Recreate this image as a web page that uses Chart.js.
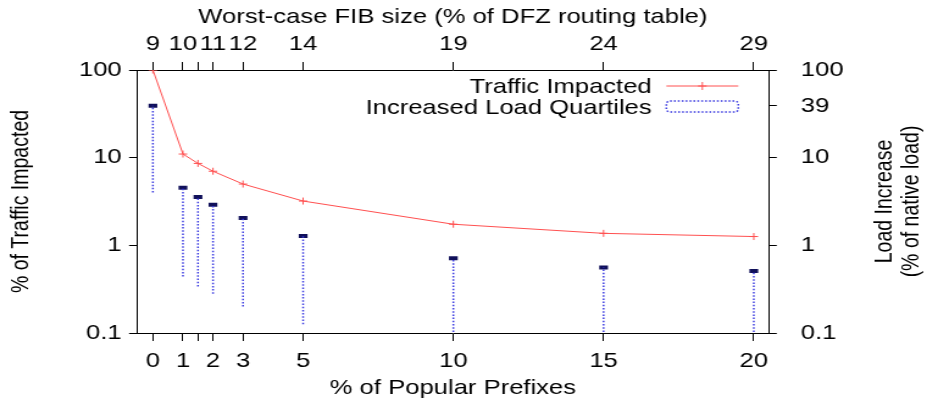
<!DOCTYPE html>
<html>
<head>
<meta charset="utf-8">
<script src="https://cdn.jsdelivr.net/npm/chart.js@4.4.0/dist/chart.umd.min.js"></script>
<style>
  html, body { margin: 0; padding: 0; background: #fff; }
  #wrap { width: 927px; height: 402px; }
  /* the original figure is stretched sideways, so the canvas is too */
  #chartFib { width: 927px; height: 402px; display: block; }
</style>
</head>
<body>
<div id="wrap"><canvas id="chartFib" width="760" height="402" style="width:927px;height:402px"></canvas></div>
<script>
// % of popular prefixes (x) and the two series
const prefixes = [0, 1, 1.5, 2, 3, 5, 10, 15, 20];
const trafficImpacted = [100, 11.0, 8.6, 7.0, 5.0, 3.2, 1.74, 1.37, 1.26];
const loadLow = [4.0, 0.44, 0.34, 0.28, 0.2, 0.126, 0.08, 0.08, 0.08];
const loadHigh = [39, 4.55, 3.55, 2.9, 2.05, 1.28, 0.71, 0.56, 0.51];

const bottomTicks = [0, 1, 1.5, 2, 3, 5, 10, 15, 20];
const bottomLabels = ['0', '1', '', '2', '3', '5', '10', '15', '20'];
const topLabels = ['9', '10', '', '11', '12', '14', '19', '24', '29'];
const leftTicks = [0.1, 1, 10, 100];
const rightTicks = [0.1, 1, 10, 39, 100];

const fam = 'Liberation Sans';
const tickFont = { family: fam, size: 21 };
const xGrid = { drawOnChartArea: false, tickLength: 8, color: '#000', lineWidth: 1 };
const yGrid = { drawOnChartArea: false, tickLength: 6.5, color: '#000', lineWidth: 1 };
const borderOpts = { color: '#000', width: 1 };

// dotted quartile bars, one segment per x, broken by nulls
const quartileData = [];
prefixes.forEach(function (x, i) {
    quartileData.push({ x: x, y: loadLow[i] });
    quartileData.push({ x: x, y: loadHigh[i] });
    quartileData.push({ x: x, y: null });
});

const extraText = {
    id: 'extraText',
    afterDatasetsDraw(chart) {
        const ctx = chart.ctx;
        const a = chart.chartArea;
        ctx.save();
        // legend, inside the top right corner
        const tx = a.right - 96, sx = a.right - 84, ex = a.right - 25;
        ctx.font = '21px "' + fam + '"';
        ctx.fillStyle = '#000';
        ctx.textAlign = 'right';
        ctx.textBaseline = 'middle';
        ctx.fillText('Traffic Impacted', tx, a.top + 17.5);
        ctx.fillText('Increased Load Quartiles', tx, a.top + 38);
        ctx.strokeStyle = '#ff5050';
        ctx.lineWidth = 1;
        ctx.beginPath();
        ctx.moveTo(sx, a.top + 16); ctx.lineTo(ex, a.top + 16);
        const mx = (sx + ex) / 2;
        ctx.moveTo(mx - 3.5, a.top + 16); ctx.lineTo(mx + 3.5, a.top + 16);
        ctx.moveTo(mx, a.top + 12); ctx.lineTo(mx, a.top + 20);
        ctx.stroke();
        ctx.strokeStyle = '#3a3ae0';
        ctx.lineWidth = 1.5;
        ctx.setLineDash([1.5, 1.7]);
        ctx.beginPath();
        ctx.roundRect(sx, a.top + 31, ex - sx, 11, 3);
        ctx.stroke();
        ctx.setLineDash([]);
        // right axis title, reading upwards
        ctx.font = '19.5px "' + fam + '"';
        ctx.textAlign = 'center';
        ctx.translate(736.5, (a.top + a.bottom) / 2);
        ctx.rotate(-Math.PI / 2);
        ctx.fillText('Load Increase', 0, -11);
        ctx.fillText('(% of native load)', 0, 11);
        ctx.restore();
    }
};

const ctx = document.getElementById('chartFib').getContext('2d');
const chart = new Chart(ctx, {
    data: {
        datasets: [{
            type: 'line',
            label: 'Increased Load Quartiles',
            data: quartileData,
            borderColor: '#3a3ae0',
            borderWidth: 1.5,
            borderDash: [1.5, 1.7],
            pointRadius: 0,
            spanGaps: false
        }, {
            type: 'scatter',
            label: 'caps',
            data: prefixes.map((x, i) => ({ x: x, y: loadHigh[i] })),
            pointStyle: 'line',
            pointRadius: 3.6,
            pointBorderWidth: 4,
            borderColor: '#10105a',
            backgroundColor: '#10105a'
        }, {
            type: 'line',
            label: 'Traffic Impacted',
            data: prefixes.map((x, i) => ({ x: x, y: trafficImpacted[i] })),
            borderColor: '#ff5050',
            backgroundColor: '#ff5050',
            borderWidth: 1,
            pointStyle: 'cross',
            pointRadius: 3.5,
            pointBorderWidth: 1,
            tension: 0
        }]
    },
    options: {
        responsive: false,
        animation: false,
        devicePixelRatio: 1,
        layout: { padding: 0 },
        plugins: { legend: { display: false }, tooltip: { enabled: false } },
        scales: {
            x: {
                type: 'linear', position: 'bottom', min: -0.53, max: 20.5,
                afterBuildTicks: s => { s.ticks = bottomTicks.map(v => ({ value: v })); },
                afterFit: s => { s.height = 69; },
                ticks: { font: tickFont, color: '#000', padding: 8, maxRotation: 0, autoSkip: false,
                    callback: v => bottomLabels[bottomTicks.indexOf(v)] },
                grid: xGrid, border: borderOpts,
                title: { display: true, text: '% of Popular Prefixes', color: '#000',
                    font: { family: fam, size: 21 }, padding: { top: 0, bottom: 1 } }
            },
            xTop: {
                type: 'linear', position: 'top', min: -0.53, max: 20.5,
                afterBuildTicks: s => { s.ticks = bottomTicks.map(v => ({ value: v })); },
                afterFit: s => { s.height = 70; },
                ticks: { font: tickFont, color: '#000', padding: 5, maxRotation: 0, autoSkip: false,
                    callback: v => topLabels[bottomTicks.indexOf(v)] },
                grid: xGrid, border: borderOpts,
                title: { display: true, text: 'Worst-case FIB size (% of DFZ routing table)', color: '#000',
                    font: { family: fam, size: 21 }, padding: { top: 5, bottom: 0 } }
            },
            y: {
                type: 'logarithmic', position: 'left', min: 0.1, max: 100,
                afterBuildTicks: s => { s.ticks = leftTicks.map(v => ({ value: v })); },
                afterFit: s => { s.width = 112.3; },
                ticks: { font: tickFont, color: '#000', padding: 6, autoSkip: false,
                    callback: v => String(v) },
                grid: yGrid, border: borderOpts,
                title: { display: true, text: '% of Traffic Impacted', color: '#000',
                    font: { family: fam, size: 19.5 }, padding: { top: 6.3, bottom: 0 } }
            },
            yRight: {
                type: 'logarithmic', position: 'right', min: 0.1, max: 100,
                afterBuildTicks: s => { s.ticks = rightTicks.map(v => ({ value: v })); },
                afterFit: s => { s.width = 129.7; },
                ticks: { font: tickFont, color: '#000', padding: 19.8, autoSkip: false,
                    callback: v => String(v) },
                grid: yGrid, border: borderOpts
            }
        }
    },
    plugins: [extraText]
});
</script>
</body>
</html>
